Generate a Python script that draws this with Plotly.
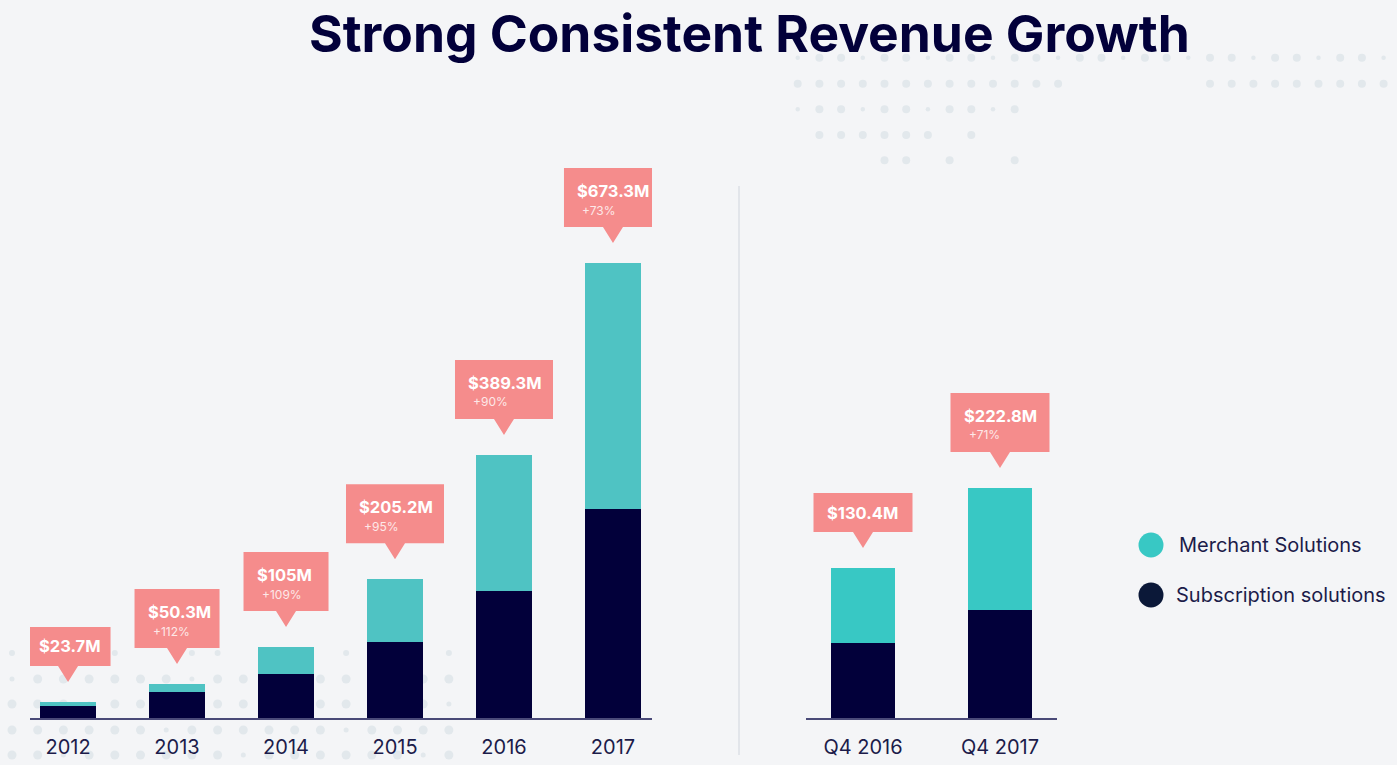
import plotly.graph_objects as go

# ---------------- data ----------------
years = ["2012", "2013", "2014", "2015", "2016", "2017"]
subscription_annual = [17.9, 38.3, 65.2, 111.9, 188.6, 310.0]
merchant_annual = [5.8, 12.0, 39.8, 93.3, 200.7, 363.3]
annual_labels = ["$23.7M", "$50.3M", "$105M", "$205.2M", "$389.3M", "$673.3M"]
annual_growth = ["", "+112%", "+109%", "+95%", "+90%", "+73%"]

quarters = ["Q4 2016", "Q4 2017"]
subscription_q = [72.7, 104.6]
merchant_q = [72.6, 118.2]
quarter_labels = ["$130.4M", "$222.8M"]
quarter_growth = ["", "+71%"]

legend_names = ["Merchant Solutions", "Subscription solutions"]

# ---------------- style ----------------
W, H = 1397, 765
BG = "#f4f5f7"
NAVY = "#02003a"
TEAL_L = "#4fc3c3"
TEAL_R = "#38c8c4"
SALMON = "#f58c8c"
TXT = "#1c1c4a"
FONT = "Inter"

fig = go.Figure()

fig.add_trace(go.Bar(x=list(range(len(years))), y=subscription_annual, marker_color=NAVY,
                     width=0.51, xaxis="x", yaxis="y", showlegend=False, marker_line_width=0))
fig.add_trace(go.Bar(x=list(range(len(years))), y=merchant_annual, marker_color=TEAL_L,
                     width=0.51, xaxis="x", yaxis="y", showlegend=False, marker_line_width=0))
fig.add_trace(go.Bar(x=list(range(len(quarters))), y=subscription_q, marker_color=NAVY,
                     width=0.46, xaxis="x2", yaxis="y2", showlegend=False, marker_line_width=0))
fig.add_trace(go.Bar(x=list(range(len(quarters))), y=merchant_q, marker_color=TEAL_R,
                     width=0.46, xaxis="x2", yaxis="y2", showlegend=False, marker_line_width=0))

shapes = []
annotations = []

# decorative dot pattern (background)
def dot(px, py, d):
    shapes.append(dict(type="circle", xref="paper", yref="paper", layer="below",
                       x0=(px - d / 2) / W, x1=(px + d / 2) / W,
                       y0=1 - (py + d / 2) / H, y1=1 - (py - d / 2) / H,
                       fillcolor="#e2e8ec", line_width=0))

for j, py in enumerate([679, 704, 730, 755]):
    for i in range(18):
        px = 12 + 25.7 * i
        d = 5 if (i * 3 + j * 5) % 7 == 0 else 9
        dot(px, py, d)
for i in [0, 4, 7, 8, 13, 17]:
    dot(12 + 25.7 * i, 653, 6)

tr_rows = [(57.7, list(range(28))), (83.7, list(range(13)) + list(range(19, 28))),
           (109.3, list(range(11))), (135, [1, 2, 3, 4, 5, 6, 8]), (160.3, [4, 5, 7, 10])]
for j, (py, idx) in enumerate(tr_rows):
    for i in idx:
        px = 797.7 + 21.7 * i
        d = 4.5 if (i * 2 + j * 3) % 6 == 0 else 8
        dot(px, py, d)

# divider
shapes.append(dict(type="line", xref="paper", yref="paper", x0=739 / W, x1=739 / W,
                   y0=1 - 755 / H, y1=1 - 186 / H, line=dict(color="#dcdfe6", width=1.5)))

# callouts
GAP, TRI = 20, 16
def callout(xr, yr, xc, top, label, growth, w):
    two = growth != ""
    bh = 59 if two else 39
    b0 = GAP + TRI
    b1 = b0 + bh
    shapes.append(dict(type="path", xref=xr, yref=yr, xsizemode="pixel", ysizemode="pixel",
                       xanchor=xc, yanchor=top,
                       path=f"M {-w/2},{b0} L {-10},{b0} L 0,{GAP} L 10,{b0} L {w/2},{b0} "
                            f"L {w/2},{b1} L {-w/2},{b1} Z",
                       fillcolor=SALMON, line_width=0))
    ty = b1 - 23 if two else b0 + bh / 2
    annotations.append(dict(xref=xr, yref=yr, x=xc, y=top, xanchor="left", yanchor="middle",
                            xshift=-w / 2 + 11, yshift=ty, showarrow=False,
                            text=f"<b>{label}</b>", font=dict(family=FONT, size=16.5, color="white")))
    if two:
        annotations.append(dict(xref=xr, yref=yr, x=xc, y=top, xanchor="left", yanchor="middle",
                                xshift=-w / 2 + 16, yshift=b1 - 42, showarrow=False,
                                text=growth, font=dict(family=FONT, size=12, color="#fde8e8")))

for i in range(len(years)):
    top = subscription_annual[i] + merchant_annual[i]
    w = 85 if len(annual_labels[i]) <= 6 else 98
    callout("x", "y", i, top, annual_labels[i], annual_growth[i], w)
for i in range(len(quarters)):
    top = subscription_q[i] + merchant_q[i]
    callout("x2", "y2", i, top, quarter_labels[i], quarter_growth[i], 99)

# legend
for k, (name, col, py, tx) in enumerate([(legend_names[0], TEAL_R, 545, 1177),
                                          (legend_names[1], "#0b1838", 595, 1174)]):
    dot_d = 25
    shapes.append(dict(type="circle", xref="paper", yref="paper",
                       x0=(1151 - dot_d / 2) / W, x1=(1151 + dot_d / 2) / W,
                       y0=1 - (py + dot_d / 2) / H, y1=1 - (py - dot_d / 2) / H,
                       fillcolor=col, line_width=0))
    annotations.append(dict(xref="paper", yref="paper", x=tx / W, y=1 - py / H,
                            xanchor="left", yanchor="middle", showarrow=False, text=name,
                            font=dict(family=FONT, size=20, color=TXT)))

# title
annotations.append(dict(xref="paper", yref="paper", x=749 / W, y=1, xanchor="center",
                        yanchor="top", showarrow=False,
                        text="<b>Strong Consistent Revenue Growth</b>",
                        font=dict(family=FONT, size=51.5, color=NAVY)))

base = 1 - 718 / H
axis_font = dict(family=FONT, size=20, color=TXT)
fig.update_layout(
    width=W, height=H, paper_bgcolor=BG, plot_bgcolor="rgba(0,0,0,0)",
    margin=dict(l=0, r=0, t=0, b=0), barmode="stack", showlegend=False,
    xaxis=dict(domain=[30 / W, 652 / W], range=[-0.349, 5.358], tickmode="array",
               tickvals=list(range(len(years))), ticktext=years, showgrid=False, zeroline=False,
               showline=True, linecolor="#4a4a78", linewidth=1.5, ticks="",
               ticklabelstandoff=10, tickfont=axis_font, anchor="y"),
    yaxis=dict(domain=[base, 1], range=[0, 1062.5], visible=False, anchor="x"),
    xaxis2=dict(domain=[806 / W, 1057 / W], range=[-0.416, 1.416], tickmode="array",
                tickvals=list(range(len(quarters))), ticktext=quarters, showgrid=False,
                zeroline=False, showline=True, linecolor="#4a4a78", linewidth=1.5, ticks="",
                ticklabelstandoff=10, tickfont=axis_font, anchor="y2"),
    yaxis2=dict(domain=[base, 1], range=[0, 695.5], visible=False, anchor="x2"),
    shapes=shapes, annotations=annotations,
)

fig.write_html("out.html", config={"displayModeBar": False},
               post_script="document.body.style.margin='0';"
                           "document.body.style.background='" + BG + "';")
